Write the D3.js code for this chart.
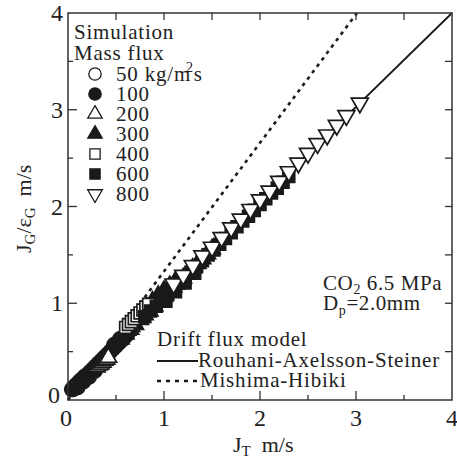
<!DOCTYPE html>
<html><head><meta charset="utf-8">
<script src="https://cdn.jsdelivr.net/npm/d3@7"></script>
<style>body{margin:0;background:#fff}svg{display:block}</style>
</head><body><svg id="c" width="457" height="460"></svg>
<script>
// ---- data ----
const massFlux = ["50 kg/m", "100", "200", "300", "400", "600", "800"];
const g50x  = [0.04,0.06,0.08,0.10,0.12,0.14,0.17];
const g50y  = [0.11,0.13,0.15,0.17,0.19,0.21,0.24];
const g100x = [0.05,0.08,0.11,0.14,0.17,0.20,0.23,0.26,0.29,0.32,0.35,0.38,0.41,0.44,0.47,0.50,0.53,0.56,0.59,0.62,0.10,0.16,0.22,0.28,0.48,0.54];
const g100y = [0.11,0.14,0.17,0.20,0.23,0.26,0.29,0.32,0.35,0.38,0.41,0.44,0.47,0.50,0.53,0.56,0.59,0.62,0.65,0.68,0.13,0.19,0.24,0.30,0.57,0.63];
const g200x = [0.30,0.32,0.34,0.36,0.38,0.40,0.42,0.62,0.64,0.66];
const g200y = [0.34,0.36,0.37,0.39,0.41,0.42,0.44,0.72,0.74,0.76];
const g300x = [0.55,0.60,0.65,0.70,0.75,0.80,0.85,0.90,0.95,1.00,1.05,1.10,1.15,1.20,1.25,1.30,1.35,1.40,1.45,1.50,0.82,0.88,0.94,1.00,1.06,1.12];
const g300y = [0.63,0.68,0.73,0.78,0.83,0.88,0.92,0.97,1.02,1.07,1.12,1.17,1.22,1.26,1.31,1.36,1.41,1.46,1.51,1.56,0.96,1.02,1.08,1.13,1.18,1.23];
const g400x = [0.60,0.63,0.66,0.69,0.72,0.75,0.78,0.81,0.84];
const g400y = [0.75,0.78,0.81,0.84,0.87,0.90,0.93,0.96,0.99];
const g600x = [0.80,0.86,0.92,0.98,1.04,1.10,1.16,1.22,1.28,1.34,1.40,1.46,1.52,1.58,1.64,1.70,1.76,1.82,1.88,1.94,2.00,2.06,2.12,2.18,2.24,2.30,1.02,1.12,1.22,1.32];
const g600y = [0.86,0.92,0.97,1.03,1.09,1.15,1.21,1.26,1.32,1.38,1.44,1.50,1.55,1.61,1.67,1.73,1.79,1.85,1.90,1.96,2.02,2.08,2.14,2.19,2.25,2.31,1.02,1.12,1.21,1.31];
const g800x = [1.10,1.20,1.30,1.40,1.50,1.60,1.70,1.80,1.90,2.00,2.10,2.20,2.30,2.40,2.50,2.60,2.70,2.80,2.90,3.04];
const g800y = [1.20,1.29,1.39,1.49,1.58,1.68,1.78,1.87,1.97,2.07,2.16,2.26,2.36,2.45,2.55,2.65,2.74,2.84,2.94,3.07];
const rouhaniX = [0, 4];
const rouhaniY = [0.12, 4.0];
const mishimaX = [0, 3.01];
const mishimaY = [0, 4.0];
const xTicks = [0,1,2,3,4];
const yTicks = [0,1,2,3,4];

const FONT = '"Liberation Serif", "Times New Roman", serif';
const svg = d3.select("#c");
const x = d3.scaleLinear().domain([0,4]).range([68,452]);
const y = d3.scaleLinear().domain([0,4]).range([400,13]);
const ink = "#1a1a1a";
const txt = "#222";

// lines
const line = d3.line().x(d=>x(d[0])).y(d=>y(d[1]));
svg.append("path").attr("d", line(rouhaniX.map((v,i)=>[v,rouhaniY[i]])))
  .attr("stroke", ink).attr("stroke-width", 1.8).attr("fill","none");
svg.append("path").attr("d", line(mishimaX.map((v,i)=>[v,mishimaY[i]])))
  .attr("stroke", ink).attr("stroke-width", 2.6).attr("stroke-dasharray","3.5,4.5").attr("fill","none");

// markers
const series = [
  {xs:g50x, ys:g50y, type:d3.symbolCircle, fill:false, rot:0, size:160},
  {xs:g100x, ys:g100y, type:d3.symbolCircle, fill:true, rot:0, size:160},
  {xs:g200x, ys:g200y, type:d3.symbolTriangle, fill:false, rot:0, size:120},
  {xs:g300x, ys:g300y, type:d3.symbolTriangle, fill:true, rot:0, size:120},
  {xs:g400x, ys:g400y, type:d3.symbolSquare, fill:false, rot:0, size:140},
  {xs:g600x, ys:g600y, type:d3.symbolSquare, fill:true, rot:0, size:140},
  {xs:g800x, ys:g800y, type:d3.symbolTriangle, fill:false, rot:180, size:125}
];
series.forEach(s=>{
  const p = d3.symbol().type(s.type).size(s.size)();
  svg.append("g").selectAll("path").data(s.xs.map((v,i)=>[v,s.ys[i]])).join("path")
    .attr("d", p)
    .attr("transform", d=>`translate(${x(d[0])},${y(d[1])}) rotate(${s.rot})`)
    .attr("fill", s.fill ? ink : "#fff").attr("stroke", ink).attr("stroke-width", 1.7);
});

// axes
const tickLen = 9, minorLen = 5;
const gAx = svg.append("g");
gAx.append("rect").attr("x",x(0)).attr("y",y(4)).attr("width",x(4)-x(0)).attr("height",y(0)-y(4))
  .attr("fill","none").attr("stroke","#333").attr("stroke-width",1.5);
const halfTicks = d3.range(0.5,4,0.5);
halfTicks.forEach(t=>{
  const L = Number.isInteger(t) ? tickLen : minorLen;
  gAx.append("line").attr("x1",x(t)).attr("x2",x(t)).attr("y1",y(0)).attr("y2",y(0)-L).attr("stroke","#333").attr("stroke-width",1.3);
  gAx.append("line").attr("x1",x(t)).attr("x2",x(t)).attr("y1",y(4)).attr("y2",y(4)+7).attr("stroke","#333").attr("stroke-width",1.3);
  gAx.append("line").attr("x1",x(0)).attr("x2",x(0)+L).attr("y1",y(t)).attr("y2",y(t)).attr("stroke","#333").attr("stroke-width",1.3);
  gAx.append("line").attr("x1",x(4)).attr("x2",x(4)-7).attr("y1",y(t)).attr("y2",y(t)).attr("stroke","#333").attr("stroke-width",1.3);
});
// tick labels
xTicks.forEach(t=>{
  svg.append("text").attr("x", x(t) + (t===0?-2:0)).attr("y", 426).attr("text-anchor","middle")
    .attr("font-size",24).attr("fill",txt).text(t);
});
yTicks.forEach(t=>{
  svg.append("text").attr("x", 63 - (t===0?3:0)).attr("y", y(t)+ (t===0?3:8)).attr("text-anchor","end")
    .attr("font-size",24).attr("fill",txt).text(t);
});

// axis titles
const xt = svg.append("text").attr("x",233).attr("y",452).attr("font-size",22).attr("fill",txt);
xt.append("tspan").text("J");
xt.append("tspan").attr("font-size",15).attr("dy",4).text("T");
xt.append("tspan").attr("dy",-4).text("\u2002m/s");

const yt = svg.append("text").attr("transform","translate(31,253) rotate(-90)").attr("font-size",22).attr("fill",txt);
yt.append("tspan").text("J");
yt.append("tspan").attr("font-size",15).attr("dy",4).text("G");
yt.append("tspan").attr("dy",-4).text("/\u03b5");
yt.append("tspan").attr("font-size",15).attr("dy",4).text("G");
yt.append("tspan").attr("dy",-4).text("\u2002m/s");

// simulation legend
const fs = 21;
svg.append("text").attr("x",74).attr("y",39).attr("font-size",fs).attr("fill",txt).attr("letter-spacing",0.8).text("Simulation");
svg.append("text").attr("x",74).attr("y",60).attr("font-size",fs).attr("fill",txt).attr("letter-spacing",0.8).text("Mass flux");
series.forEach((s,i)=>{
  const cy = 74 + i*20;
  svg.append("path").attr("d", d3.symbol().type(s.type).size(s.size*0.75)())
    .attr("transform",`translate(95,${cy}) rotate(${s.rot})`)
    .attr("fill", s.fill ? ink : "#fff").attr("stroke", ink).attr("stroke-width",1.3);
  const t = svg.append("text").attr("x",116).attr("y",cy+7).attr("font-size",fs).attr("fill",txt).attr("letter-spacing",0.8);
  t.append("tspan").text(massFlux[i]);
  if(i===0){
    t.append("tspan").attr("font-size",14).attr("dy",-9).attr("dx",-5).text("2");
    t.append("tspan").attr("dy",9).text("s");
  }
});

// condition text
const c1 = svg.append("text").attr("x",323).attr("y",290).attr("font-size",fs).attr("fill",txt).attr("letter-spacing",0.6);
c1.append("tspan").text("CO");
c1.append("tspan").attr("font-size",14).attr("dy",4).text("2");
c1.append("tspan").attr("dy",-4).text(" 6.5 MPa");
const c2 = svg.append("text").attr("x",323).attr("y",310).attr("font-size",fs).attr("fill",txt).attr("letter-spacing",0.6);
c2.append("tspan").text("D");
c2.append("tspan").attr("font-size",14).attr("dy",5).text("p");
c2.append("tspan").attr("dy",-5).text("=2.0mm");

// model legend
svg.append("text").attr("x",157).attr("y",346).attr("font-size",fs).attr("fill",txt).attr("letter-spacing",0.8).text("Drift flux model");
svg.append("line").attr("x1",157).attr("x2",198).attr("y1",361).attr("y2",361).attr("stroke",ink).attr("stroke-width",2);
svg.append("text").attr("x",198).attr("y",367).attr("font-size",fs).attr("fill",txt).attr("letter-spacing",0.8).text("Rouhani-Axelsson-Steiner");
svg.append("line").attr("x1",157).attr("x2",198).attr("y1",381).attr("y2",381).attr("stroke",ink).attr("stroke-width",2.4).attr("stroke-dasharray","4,5");
svg.append("text").attr("x",200).attr("y",387).attr("font-size",fs).attr("fill",txt).attr("letter-spacing",0.8).text("Mishima-Hibiki");

// apply serif font directly on every text element
svg.selectAll("text").style("font-family", FONT);
</script></body></html>
